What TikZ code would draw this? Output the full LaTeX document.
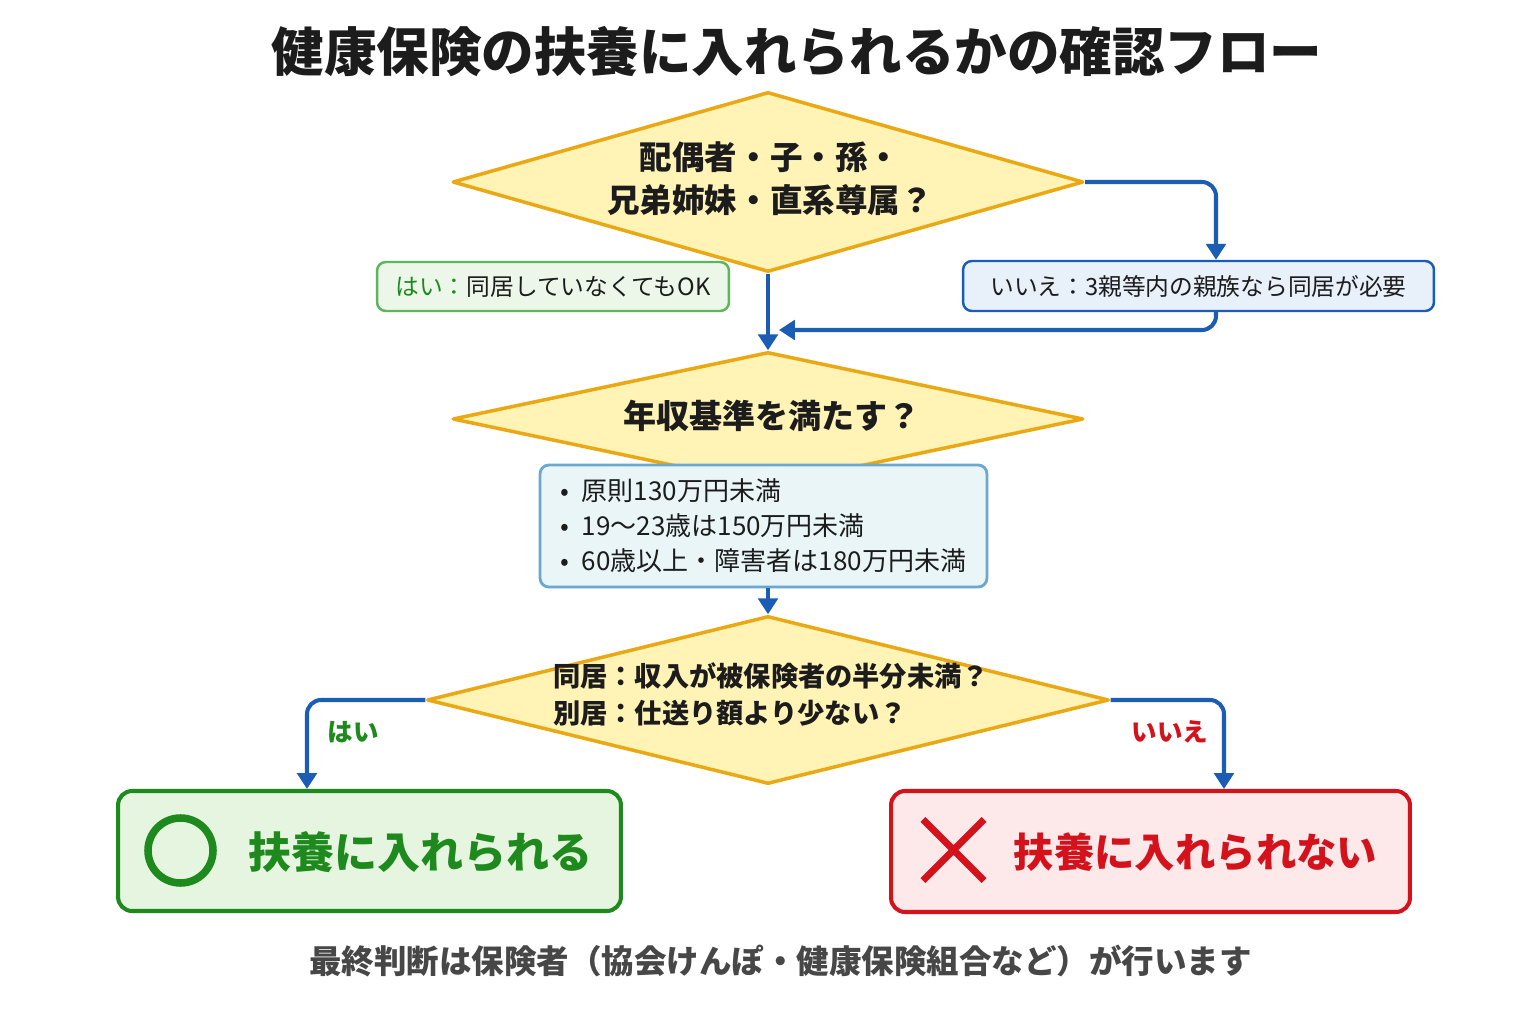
\documentclass[tikz,border=0pt]{standalone}
\usepackage{fontspec}
\setmainfont{Noto Sans CJK JP}
\usepackage{xcolor}
\usepackage{tikz}
\usetikzlibrary{arrows.meta,shapes.geometric,shapes.misc}
\definecolor{gold}{HTML}{E9A814}
\definecolor{cream}{HTML}{FFF3B5}
\definecolor{flowblue}{HTML}{1B5DB5}
\definecolor{ink}{HTML}{1C1C1C}
\definecolor{okgr}{HTML}{1E8A1E}
\definecolor{okbg}{HTML}{E5F5DF}
\definecolor{yesln}{HTML}{5DB55D}
\definecolor{yesbg}{HTML}{ECF7EA}
\definecolor{nobg}{HTML}{E8F0FA}
\definecolor{critln}{HTML}{6AA8D2}
\definecolor{critbg}{HTML}{EAF5F8}
\definecolor{ngrd}{HTML}{D4121C}
\definecolor{ngbg}{HTML}{FDE9EA}
\definecolor{notegray}{HTML}{474747}
\tikzset{fig/.style={line join=round,>={Triangle[length=9pt,width=11pt]}},
  dia/.style={diamond,draw=gold,fill=cream,line width=2pt,inner sep=0pt},
  tag/.style={rounded corners=5pt,line width=1.4pt,inner sep=0pt,text=ink},
  res/.style={rounded corners=8pt,line width=2.3pt},
  flowln/.style={flowblue,line width=2.3pt,rounded corners=8pt,->}}

\begin{document}
\begin{tikzpicture}[fig,x=0.02cm,y=-0.02cm]
  \fill[white](0,0)rectangle(1536,1024);
  \node[font=\bfseries\fontsize{29.9}{34}\selectfont,text=ink](title)at(797,52){健康保険の扶養に入れられるかの確認フロー};
  \node[dia,minimum width=12.62cm,minimum height=3.6cm](q1)at(768,182){};
  \node[font=\bfseries\fontsize{18.5}{24.5}\selectfont,text=ink,align=center](q1t)at(770,179){配偶者・子・孫・\\兄弟姉妹・直系尊属？};
  \node[tag,draw=yesln,fill=yesbg,minimum width=7.04cm,minimum height=0.98cm,font=\fontsize{13.5}{16}\selectfont](yesbox)at(553,286.5){\textcolor{okgr}{はい：}同居していなくてもOK};
  \node[tag,draw=flowblue,fill=nobg,minimum width=9.42cm,minimum height=1cm,font=\fontsize{13.5}{16}\selectfont](nobox)at(1198.5,286){いいえ：3親等内の親族なら同居が必要};
  \node[dia,minimum width=12.62cm,minimum height=2.68cm](q2)at(768,419){};
  \node[font=\bfseries\fontsize{18.8}{22}\selectfont,text=ink](q2t)at(772,416){年収基準を満たす？};
  \node[tag,draw=critln,fill=critbg,line width=1.6pt,minimum width=8.94cm,minimum height=2.44cm,text width=8.14cm,align=left,font=\fontsize{14.8}{20}\selectfont](crit)at(763.5,526){•\hspace{0.5em}原則130万円未満\\•\hspace{0.5em}19～23歳は150万円未満\\•\hspace{0.5em}60歳以上・障害者は180万円未満};
  \node[dia,minimum width=13.64cm,minimum height=3.36cm](q3)at(768,700){};
  \node[font=\bfseries\fontsize{15.5}{21}\selectfont,text=ink,align=left](q3t)at(771,694){同居：収入が被保険者の半分未満？\\別居：仕送り額より少ない？};
  \node[res,draw=okgr,fill=okbg,minimum width=10.06cm,minimum height=2.4cm](okbox)at(369.5,851){};
  \node[circle,draw=okgr,line width=4.3pt,minimum size=1.3cm,inner sep=0pt](okmark)at(180.5,850.5){};
  \node[font=\bfseries\fontsize{24.5}{28}\selectfont,text=okgr](oktext)at(420.5,852){扶養に入れられる};
  \node[res,draw=ngrd,fill=ngbg,minimum width=10.38cm,minimum height=2.42cm](ngbox)at(1150.5,851.5){};
  \node[cross out,draw=ngrd,line width=4pt,minimum size=1.08cm,inner sep=0pt](ngmark)at(953.5,850){};
  \node[font=\bfseries\fontsize{23}{28}\selectfont,text=ngrd](ngtext)at(1195.5,852){扶養に入れられない};
  \node[font=\bfseries\fontsize{14.5}{17}\selectfont,text=okgr](yeslbl)at(353,732){はい};
  \node[font=\bfseries\fontsize{14.5}{17}\selectfont,text=ngrd](nolbl)at(1170,732){いいえ};
  \node[font=\bfseries\fontsize{18.5}{22}\selectfont,text=notegray](foot)at(780.5,961){最終判断は保険者（協会けんぽ・健康保険組合など）が行います};
  \coordinate(merge)at(779,330);
  \draw[flowln](q1.east)-|([xshift=0.35cm]nobox.north);
  \draw[flowln]([xshift=0.35cm]nobox.south)|-(merge);
  \draw[flowln](q1.south)--(q2.north);
  \draw[flowln](crit.south-|q3.north)--(q3.north);
  \draw[flowln](q3.west)-|([xshift=-1.25cm]okbox.north);
  \draw[flowln](q3.east)-|([xshift=1.47cm]ngbox.north);
\end{tikzpicture}
\end{document}
